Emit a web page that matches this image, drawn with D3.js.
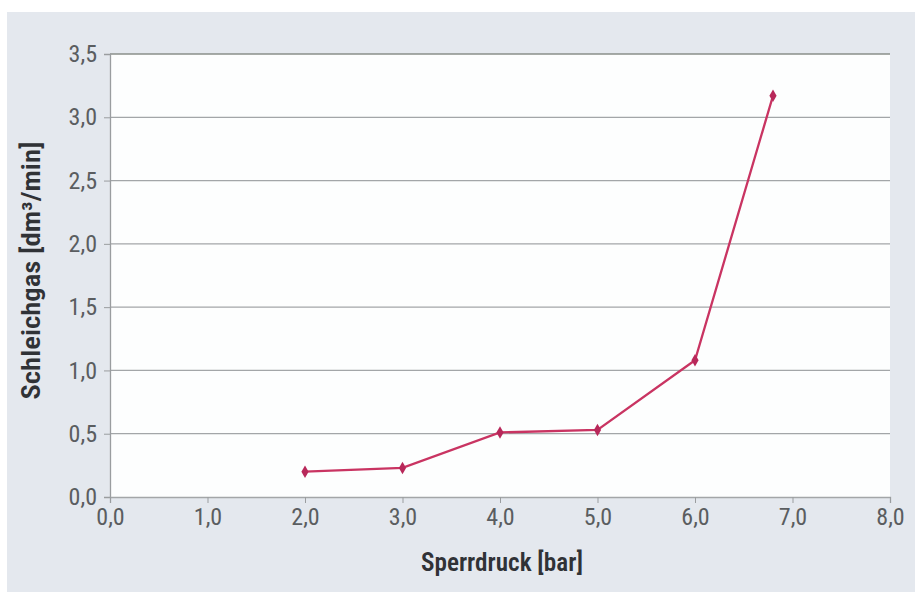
<!DOCTYPE html>
<html><head><meta charset="utf-8">
<script src="https://cdn.jsdelivr.net/npm/d3@7"></script>
<style>
html,body{margin:0;padding:0;background:#fff;}
svg{display:block;}
text{font-family:"Liberation Sans Narrow","Roboto Condensed","Arial Narrow","Liberation Sans",sans-serif;}
</style></head>
<body>
<svg id="chart" width="915" height="592"></svg>
<script>
const xValues = [2.0, 3.0, 4.0, 5.0, 6.0, 6.8];
const yValues = [0.20, 0.23, 0.51, 0.53, 1.08, 3.17];
const xTicks = [0,1,2,3,4,5,6,7,8];
const yTicks = [0,0.5,1.0,1.5,2.0,2.5,3.0,3.5];
const xTitle = "Sperrdruck [bar]";
const yTitle = "Schleichgas [dm³/min]";

const svg = d3.select("#chart");
const W = 915, H = 592;
const m = {left:110, right:25, top:54, bottom:95};
const pw = W - m.left - m.right, ph = H - m.top - m.bottom;

svg.append("rect").attr("x",7).attr("y",12).attr("width",W-7).attr("height",H-12).attr("fill","#e4e8ee");
svg.append("rect").attr("x",m.left).attr("y",m.top).attr("width",pw).attr("height",ph).attr("fill","#fdfefe");

const x = d3.scaleLinear().domain([0,8]).range([m.left, m.left+pw]);
const y = d3.scaleLinear().domain([0,3.5]).range([m.top+ph, m.top]);
const fmt = d => d3.format(".1f")(d).replace(".", ",");

svg.append("g").selectAll("line").data(yTicks.filter(d=>d>0)).join("line")
  .attr("x1",m.left).attr("x2",m.left+pw)
  .attr("y1",d=>y(d)).attr("y2",d=>y(d))
  .attr("stroke",d=>d===3.5?"#8a8f8a":"#a3a6a8").attr("stroke-width",d=>d===3.5?1.6:1.3);

const ya = svg.append("g").attr("transform",`translate(${m.left},0)`)
  .call(d3.axisLeft(y).tickValues(yTicks).tickFormat(fmt).tickSize(6).tickPadding(7));
ya.select(".domain").attr("stroke","#9a9d9f").attr("stroke-width",1.3);
ya.selectAll(".tick line").attr("stroke","#9a9d9f");
ya.selectAll("text").attr("fill","#5a5d60").attr("font-size",24);

const xa = svg.append("g").attr("transform",`translate(0,${m.top+ph})`)
  .call(d3.axisBottom(x).tickValues(xTicks).tickFormat(fmt).tickSize(6).tickPadding(5));
xa.select(".domain").attr("stroke","#a3a6a8").attr("stroke-width",1.3);
xa.selectAll(".tick line").attr("stroke","#9a9d9f");
xa.selectAll("text").attr("fill","#5a5d60").attr("font-size",24);

svg.append("text").attr("x",x(4)+2).attr("y",571).attr("text-anchor","middle")
  .attr("font-size",25).attr("font-weight",600).attr("fill","#303236")
  .attr("textLength",162).attr("lengthAdjust","spacingAndGlyphs").text(xTitle);
svg.append("text").attr("transform",`translate(40,${y(1.75)-5}) rotate(-90)`).attr("text-anchor","middle")
  .attr("font-size",25).attr("font-weight",600).attr("fill","#303236")
  .attr("textLength",258).attr("lengthAdjust","spacingAndGlyphs").text(yTitle);

const pts = xValues.map((v,i)=>[v,yValues[i]]);
svg.append("path").datum(pts)
  .attr("d", d3.line().x(d=>x(d[0])).y(d=>y(d[1])))
  .attr("fill","none").attr("stroke","#c93462").attr("stroke-width",2.3);
svg.append("g").selectAll("path").data(pts).join("path")
  .attr("transform",d=>`translate(${x(d[0])},${y(d[1])})`)
  .attr("d", d3.symbol().type(d3.symbolDiamond).size(45))
  .attr("fill","#b8285a");
</script>
</body></html>
